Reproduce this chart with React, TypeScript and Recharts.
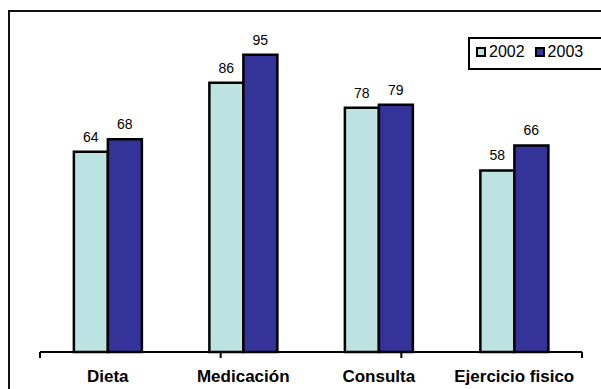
import React from 'react';
import { BarChart, Bar, XAxis, YAxis, LabelList } from 'recharts';

const categories = ['Dieta', 'Medicación', 'Consulta', 'Ejercicio  fisico'];
const values2002 = [64, 86, 78, 58];
const values2003 = [68, 95, 79, 66];
const seriesNames = ['2002', '2003'];
const colors = ['#BDE2E2', '#333399'];
const edgeTicks = [0, 1, 2, 3, 4];

const data = categories.map((name, i) => ({
  name,
  y2002: values2002[i],
  y2003: values2003[i],
}));

const font = '"Liberation Sans", Arial, sans-serif';

// Legend drawn as a boxed row of swatches, like the original spreadsheet chart
const LegendBox = () => (
  <div
    style={{
      position: 'absolute',
      left: 468,
      top: 37,
      width: 140,
      height: 33,
      border: '2px solid #000',
      boxSizing: 'border-box',
      display: 'flex',
      alignItems: 'center',
      paddingLeft: 6,
      paddingBottom: 3,
      fontFamily: font,
      fontSize: 16,
      color: '#000',
    }}
  >
    {seriesNames.map((s, i) => (
      <span key={s} style={{ display: 'flex', alignItems: 'center', marginRight: 10 }}>
        <span
          style={{
            display: 'inline-block',
            width: 10,
            height: 10,
            background: colors[i],
            border: '2px solid #000',
            boxSizing: 'border-box',
            marginRight: 3,
          }}
        />
        {s}
      </span>
    ))}
  </div>
);

// tick marks only, no text
const NoLabel = () => <g />;

export default function App() {
  return (
    <div style={{ position: 'absolute', left: 0, top: 0, width: 601, height: 389, overflow: 'hidden', background: '#fff' }}>
      {/* outer frame, only the top and left edges fall inside the page */}
      <div
        style={{
          position: 'absolute',
          left: 8,
          top: 10,
          width: 620,
          height: 400,
          borderLeft: '2px solid #111',
          borderTop: '2px solid #111',
        }}
      />
      <BarChart
        width={601}
        height={389}
        data={data}
        margin={{ top: 39, right: 19, left: 40, bottom: 0 }}
        barCategoryGap="25%"
        barGap={0}
        style={{ position: 'absolute', left: 0, top: 0 }}
      >
        {/* category boundary ticks on a numeric axis next to the plot */}
        <XAxis
          xAxisId="base"
          type="number"
          domain={[0, 4]}
          ticks={edgeTicks}
          tick={NoLabel}
          tickSize={6}
          height={6}
          axisLine={{ stroke: '#000', strokeWidth: 2 }}
          tickLine={{ stroke: '#000', strokeWidth: 2 }}
          allowDataOverflow
        />
        <XAxis
          xAxisId="cat"
          dataKey="name"
          axisLine={false}
          tickLine={false}
          tickSize={0}
          tickMargin={12}
          height={31}
          interval={0}
          tick={{ fill: '#000', fontFamily: font, fontSize: 17, fontWeight: 'bold' }}
        />
        <YAxis hide domain={[0, 100]} />
        <Bar xAxisId="cat" dataKey="y2002" fill={colors[0]} stroke="#000" strokeWidth={2.5} isAnimationActive={false}>
          <LabelList dataKey="y2002" position="top" offset={10} fill="#000" fontFamily={font} fontSize={14} />
        </Bar>
        <Bar xAxisId="cat" dataKey="y2003" fill={colors[1]} stroke="#000" strokeWidth={2.5} isAnimationActive={false}>
          <LabelList dataKey="y2003" position="top" offset={10} fill="#000" fontFamily={font} fontSize={14} />
        </Bar>
      </BarChart>
      <LegendBox />
    </div>
  );
}
